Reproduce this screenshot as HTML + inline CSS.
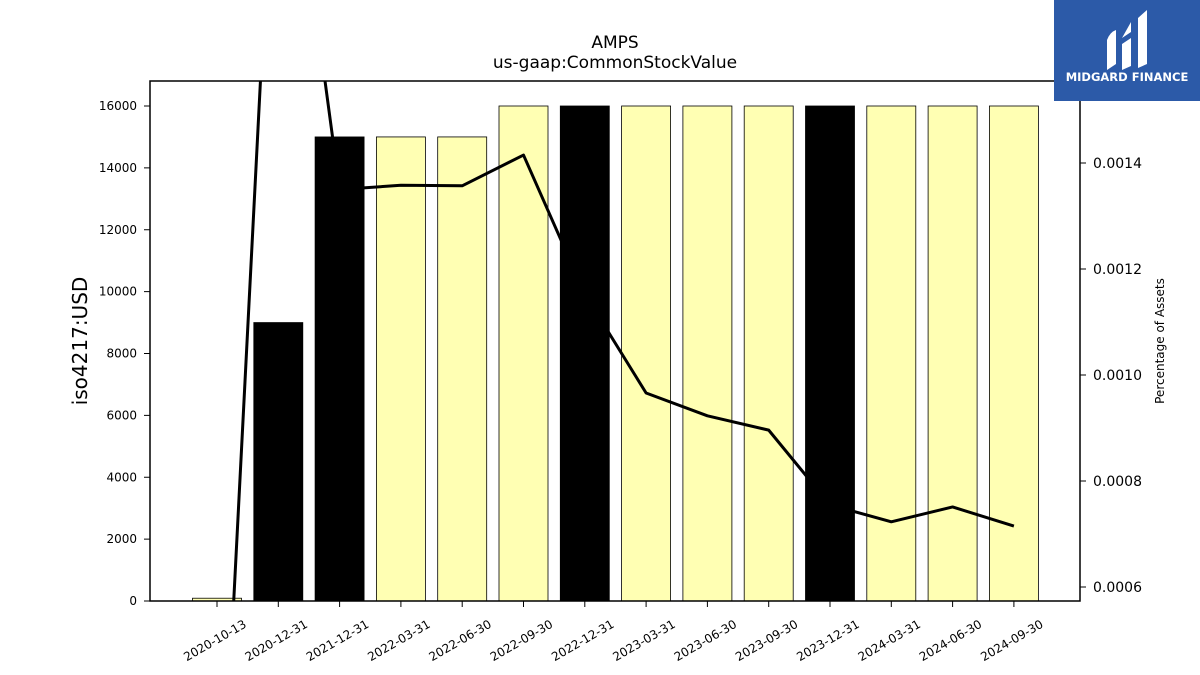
<!DOCTYPE html>
<html><head><meta charset="utf-8"><style>
html,body{margin:0;background:#fff;font-family:"Liberation Sans","DejaVu Sans",sans-serif;width:1200px;height:675px;overflow:hidden}
svg{display:block}
svg text{font-family:"DejaVu Sans","Liberation Sans",sans-serif}
</style></head><body>
<svg id="chart" width="1200" height="675" xmlns="http://www.w3.org/2000/svg">
<rect width="1200" height="675" fill="#fff"/>
<text x="615" y="48" text-anchor="middle" font-size="17">AMPS</text>
<text x="615" y="68" text-anchor="middle" font-size="17">us-gaap:CommonStockValue</text>
<defs><clipPath id="pc"><rect x="150" y="81" width="930" height="520"/></clipPath></defs>
<g id="bars" clip-path="url(#pc)"></g>
<g id="line" clip-path="url(#pc)"></g>
<rect x="150" y="81" width="930" height="520" fill="none" stroke="#000" stroke-width="1.5"/>
<g id="axes"></g>
<text transform="translate(87,341) rotate(-90)" text-anchor="middle" font-size="20">iso4217:USD</text>
<text transform="translate(1164,341) rotate(-90)" text-anchor="middle" font-size="12">Percentage of Assets</text>
<g>
<rect x="1054" y="0" width="146" height="101" fill="#2c5aa8"/>
<path d="M1107 70 L1107 40 Q1110 32 1116 30 L1116 64 Z M1122 70 L1122 44 L1131 38 L1131 66 Z M1122 38 L1131 22 L1131 32 Z M1138 68 L1138 18 L1147 10 L1147 64 Z" fill="#fff"/>
<text x="1127" y="81" text-anchor="middle" font-size="11.5" font-weight="bold" fill="#fff">MIDGARD FINANCE</text>
</g>
</svg>
<script>
const categories=["2020-10-13","2020-12-31","2021-12-31","2022-03-31","2022-06-30","2022-09-30","2022-12-31","2023-03-31","2023-06-30","2023-09-30","2023-12-31","2024-03-31","2024-06-30","2024-09-30"];
const barValues=[90,9000,15000,15000,15000,16000,16000,16000,16000,16000,16000,16000,16000,16000];
const pctValues=[-0.00004,0.00221,0.00135,0.001358,0.001357,0.001415,0.001153,0.000966,0.000923,0.000896,0.000755,0.000723,0.000751,0.000715];
const leftTicks=[0,2000,4000,6000,8000,10000,12000,14000,16000];
const rightTicks=[0.0006,0.0008,0.0010,0.0012,0.0014];
const annual=categories.map(c=>c.endsWith("12-31"));
const NS="http://www.w3.org/2000/svg";
function mk(t,a,p){const e=document.createElementNS(NS,t);for(const k in a)e.setAttribute(k,a[k]);p.appendChild(e);return e;}
const xC=i=>217+i*61.3;
const yL=v=>601-v*(495/16000);
const yR=v=>163+(0.0014-v)*530000;
const bars=document.getElementById('bars'),line=document.getElementById('line'),axes=document.getElementById('axes');
barValues.forEach((v,i)=>{
 const r=mk('rect',{x:xC(i)-24.5,y:yL(v),width:49,height:601-yL(v),fill:annual[i]?'#000':'#ffffb3',stroke:'#000','stroke-width':0.8},bars);
 
 
});
const pl=mk('polyline',{points:pctValues.map((v,i)=>xC(i)+','+yR(v)).join(' '),fill:'none',stroke:'#000','stroke-width':3,'stroke-linejoin':'round'},line);


categories.forEach((c,i)=>{
 mk('line',{x1:xC(i),x2:xC(i),y1:601,y2:607,stroke:'#000'},axes);
 const t=mk('text',{'text-anchor':'middle','font-size':12,transform:`translate(${xC(i)},${644}) rotate(-30)`},axes);
 t.textContent=c;
 
 
});
leftTicks.forEach(v=>{
 mk('line',{x1:144,x2:150,y1:yL(v),y2:yL(v),stroke:'#000'},axes);
 const t=mk('text',{x:137,y:yL(v)+4,'text-anchor':'end','font-size':12},axes);
 t.textContent=v;
 
 
});
rightTicks.forEach(v=>{
 mk('line',{x1:1080,x2:1086,y1:yR(v),y2:yR(v),stroke:'#000'},axes);
 const t=mk('text',{x:1093,y:yR(v)+5,'font-size':14},axes);
 t.textContent=v.toFixed(4);
 
 
});
</script>
</body></html>
